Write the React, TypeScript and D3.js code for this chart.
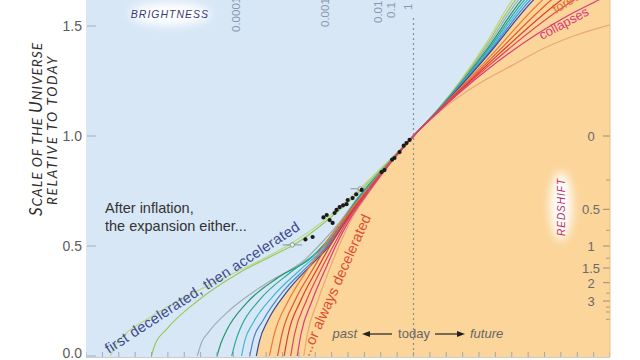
import React from 'react';
import * as d3 from 'd3';

type P = [number, number];

// time in billions of years from today, scale of the universe relative to today
const lightGreen: P[] = [[-18.5, 0], [-18.2, 0.05], [-17.6, 0.1], [-16.2, 0.17], [-14.5, 0.245], [-12, 0.34], [-9.5, 0.43], [-7.4, 0.515], [-5.4, 0.62], [-3.5, 0.745], [-1.7, 0.874], [0, 1], [1.5, 1.123], [3, 1.266], [4.5, 1.429], [6.04, 1.618], [6.5, 1.66]];
const yellowGreen: P[] = [[-16, 0], [-15.8, 0.05], [-15.1, 0.12], [-13.2, 0.25], [-10.6, 0.38], [-8.5, 0.46], [-7.1, 0.515], [-5.3, 0.615], [-3.4, 0.74], [-1.66, 0.872], [0, 1], [1.5, 1.121], [3, 1.26], [4.5, 1.417], [6.22, 1.618], [6.7, 1.66]];
const gray: P[] = [[-13.2, 0], [-12.95, 0.06], [-12.5, 0.11], [-11.2, 0.21], [-9, 0.33], [-6.6, 0.44], [-5.8, 0.5], [-4.6, 0.6], [-3.3, 0.73], [-1.62, 0.87], [0, 1], [1.5, 1.12], [3, 1.255], [4.5, 1.406], [6.4, 1.618], [6.9, 1.66]];
const darkGreen: P[] = [[-12, 0], [-11.75, 0.06], [-11.4, 0.118], [-10.2, 0.24], [-8.2, 0.36], [-6.2, 0.45], [-5.55, 0.5], [-4.5, 0.6], [-3.25, 0.73], [-1.6, 0.87], [0, 1], [1.5, 1.119], [3, 1.251], [4.5, 1.395], [6.59, 1.618], [7.1, 1.66]];
const teal: P[] = [[-11.1, 0], [-10.85, 0.07], [-10.55, 0.13], [-9.4, 0.255], [-7.6, 0.375], [-5.9, 0.47], [-5.45, 0.5], [-4.4, 0.6], [-3.2, 0.73], [-1.58, 0.87], [0, 1], [1.5, 1.118], [3, 1.247], [4.5, 1.386], [6.77, 1.618], [7.3, 1.66]];
const cyan: P[] = [[-10.5, 0], [-10.3, 0.07], [-9.8, 0.15], [-8.6, 0.27], [-6.95, 0.39], [-5.35, 0.5], [-4.35, 0.6], [-3.15, 0.73], [-1.56, 0.87], [0, 1], [1.5, 1.117], [3, 1.243], [4.5, 1.378], [6.95, 1.618], [7.5, 1.66]];
const blue: P[] = [[-10, 0], [-9.8, 0.07], [-9.2, 0.16], [-8, 0.29], [-6.5, 0.405], [-5.25, 0.5], [-4.3, 0.6], [-3.1, 0.73], [-1.55, 0.87], [0, 1], [1.5, 1.116], [3, 1.24], [4.5, 1.371], [7.13, 1.618], [7.7, 1.66]];
const navy: P[] = [[-9.6, 0], [-9.4, 0.07], [-8.9, 0.16], [-7.75, 0.29], [-6.3, 0.41], [-5.15, 0.5], [-4.25, 0.6], [-3.05, 0.73], [-1.54, 0.87], [0, 1], [1.5, 1.115], [3, 1.237], [4.5, 1.364], [7.32, 1.618], [7.9, 1.66]];
const orange: P[] = [[-8.8, 0], [-8.5, 0.1], [-7.65, 0.25], [-6.4, 0.4], [-5.5, 0.5], [-4.3, 0.62], [-2.9, 0.75], [-1.45, 0.88], [0, 1], [1.5, 1.114], [3, 1.229], [4.5, 1.347], [7.87, 1.618], [8.5, 1.66]];
const redOrange: P[] = [[-8.3, 0], [-8.03, 0.1], [-7.25, 0.25], [-6.1, 0.4], [-5.3, 0.5], [-4.2, 0.62], [-2.85, 0.75], [-1.43, 0.88], [0, 1], [1.5, 1.112], [3, 1.223], [4.5, 1.334], [8.41, 1.618], [9, 1.655]];
const red: P[] = [[-7.9, 0], [-7.65, 0.1], [-6.9, 0.25], [-5.85, 0.4], [-5.1, 0.5], [-4.1, 0.62], [-2.8, 0.75], [-1.41, 0.88], [0, 1], [1.5, 1.111], [3, 1.218], [4.5, 1.323], [9.02, 1.618], [9.6, 1.65]];
const crimson: P[] = [[-7.5, 0], [-7.26, 0.1], [-6.55, 0.25], [-5.6, 0.4], [-4.9, 0.5], [-4, 0.62], [-2.75, 0.75], [-1.4, 0.88], [0, 1], [1.5, 1.11], [3, 1.214], [4.5, 1.313], [9.8, 1.618], [10.4, 1.645]];
const pink: P[] = [[-7.1, 0], [-6.87, 0.1], [-6.2, 0.25], [-5.35, 0.4], [-4.75, 0.5], [-3.9, 0.62], [-2.7, 0.75], [-1.38, 0.88], [0, 1], [1.5, 1.108], [3, 1.209], [4.5, 1.301], [7.5, 1.461], [9.5, 1.55], [11.3, 1.618], [12, 1.645]];
const tan: P[] = [[-6.7, 0], [-6.48, 0.1], [-5.85, 0.25], [-5.1, 0.4], [-4.55, 0.5], [-3.8, 0.62], [-2.65, 0.75], [-1.36, 0.88], [0, 1], [1.5, 1.105], [3, 1.19], [4.5, 1.26], [6, 1.32], [8, 1.4], [10, 1.46], [12, 1.505]];

const models = [lightGreen, yellowGreen, gray, darkGreen, teal, cyan, blue, navy, tan, orange, redOrange, red, crimson, pink];
const modelColors = ['#bcd884', '#98c85a', '#a2adb0', '#24966c', '#2aa89c', '#3cb8d6', '#4a86cc', '#3c4690', '#e8a874', '#ec7a3a', '#e0582c', '#d83a30', '#e2445a', '#d83c7c'];

// supernova measurements
const supernovae: P[] = [[-0.24, 0.982], [-0.43, 0.968], [-0.6, 0.956], [-0.85, 0.927], [-1.16, 0.9], [-1.3, 0.893], [-1.77, 0.845], [-1.95, 0.836], [-3.17, 0.755], [-3.5, 0.735], [-3.72, 0.718], [-4.02, 0.709], [-4.09, 0.69], [-4.3, 0.685], [-4.51, 0.677], [-4.7, 0.664], [-4.82, 0.65], [-5.3, 0.641], [-5.12, 0.618], [-4.94, 0.605], [-5.5, 0.63], [-6.16, 0.541], [-6.6, 0.53]];
const openPoints: P[] = [[-7.4, 0.505], [-3.25, 0.76]];

const yTicks = [0, 0.5, 1.0, 1.5];
const timeTicks = d3.range(-20, 13, 1);
const redshiftMajor = [0, 0.5, 1, 1.5, 2, 3];
const redshiftMinor = [0.25, 0.75, 1.25, 2.5, 3.5, 4, 5];
const brightnessLabels = ['0.0001', '0.001', '0.01', '0.1', '1'];
const brightnessTimes = [-10.6, -5.16, -1.92, -1.13, -0.09];

const W = 640;
const H = 360;
const left = 86;
const right = 610;
const bottom = 357;

export default function App() {
  const x = d3.scaleLinear().domain([-20, 12]).range([left, right]);
  const y = d3.scaleLinear().domain([0, 1.5]).range([356, 26]);
  const line = d3.line<P>().x(d => x(d[0])).y(d => y(d[1])).curve(d3.curveMonotoneX);
  const area = d3.area<P>().x(d => x(d[0])).y0(bottom + 2).y1(d => y(d[1])).curve(d3.curveMonotoneX);
  const zy = (z: number) => y(1 / (1 + z));
  const font = 'Liberation Sans, Arial, sans-serif';
  const navyEnd = navy[navy.length - 1][0];
  const brightStart = [32, 27, 23, 18, 10];
  const titleProps = { textAnchor: 'middle' as const, fontFamily: 'Lato, sans-serif', fontStyle: 'italic', fill: '#2e2e2e' };

  return (
    <svg width={W} height={H} style={{ position: 'fixed', left: 0, top: 0, background: '#fff' }} fontFamily={font}>
      <defs>
        <clipPath id="plot"><rect x={left} y={-10} width={right - left} height={bottom + 10} /></clipPath>
        <filter id="glow" x="-50%" y="-50%" width="200%" height="200%"><feGaussianBlur stdDeviation="5" /></filter>
      </defs>
      <g clipPath="url(#plot)">
        <rect x={left} y={-10} width={right - left} height={bottom + 10} fill="#d8e7f6" />
        <path d={area(navy) || ''} fill="#fbd59a" />
        <rect x={x(navyEnd) - 1} y={-10} width={right - x(navyEnd) + 1} height={bottom + 10} fill="#fbd59a" />
        <line x1={x(0)} x2={x(0)} y1={18} y2={bottom} stroke="#8c8c8c" strokeWidth={1.2} strokeDasharray="2 3" />
        {models.map((m, i) => (
          <path key={i} d={line(m) || ''} fill="none" stroke={modelColors[i]} strokeWidth={1.2} />
        ))}
        {openPoints.map((p, i) => (
          <g key={i}>
            <line x1={x(p[0] - 0.6)} x2={x(p[0] + 0.6)} y1={y(p[1])} y2={y(p[1])} stroke="#8a9098" strokeWidth={1} />
            <circle cx={x(p[0])} cy={y(p[1])} r={2.2} fill="#eef2f6" stroke="#7a8088" strokeWidth={0.8} />
          </g>
        ))}
        {supernovae.map((p, i) => (
          <circle key={i} cx={x(p[0])} cy={y(p[1])} r={2.1} fill="#1a1a1a" />
        ))}
        {timeTicks.map(t => (
          <line key={t} x1={x(t)} x2={x(t)} y1={bottom - 5} y2={bottom} stroke="#8d9cae" strokeWidth={0.8} />
        ))}
        {yTicks.map(v => (
          <line key={v} x1={left + 1} x2={left + 10} y1={y(v)} y2={y(v)} stroke="#9fb0c2" strokeWidth={1} />
        ))}
        {redshiftMajor.map(z => (
          <line key={z} x1={right - 7} x2={right} y1={zy(z)} y2={zy(z)} stroke="#9a8a78" strokeWidth={1} />
        ))}
        {redshiftMinor.map(z => (
          <line key={z} x1={right - 4} x2={right} y1={zy(z)} y2={zy(z)} stroke="#9a8a78" strokeWidth={0.8} />
        ))}
      </g>
      <line x1={right} x2={right} y1={0} y2={bottom} stroke="#e6c08c" strokeWidth={1} />
      <line x1={left} x2={right} y1={bottom + 0.5} y2={bottom + 0.5} stroke="#c8ccd0" strokeWidth={1} />

      {yTicks.map(v => (
        <text key={v} x={82} y={Math.min(y(v) + 5, 358)} textAnchor="end" fontSize={14} fill="#5c5c5c">{v.toFixed(1)}</text>
      ))}
      {redshiftMajor.map(z => (
        <text key={z} x={591} y={zy(z) + 5} textAnchor="middle" fontSize={13} fill="#6a6a6a">{z}</text>
      ))}

      {brightnessLabels.map((s, i) => (
        <text key={s} transform={`translate(${x(brightnessTimes[i])},${brightStart[i]}) rotate(-90)`} fontSize={11.5} fill="#8896ac">{s}</text>
      ))}

      <ellipse cx={170} cy={14} rx={40} ry={11} fill="#fff" filter="url(#glow)" />
      <text x={170} y={18} textAnchor="middle" fontSize={10.5} fontStyle="italic" letterSpacing={1} fill="#3b3a78">BRIGHTNESS</text>

      <ellipse cx={561} cy={206} rx={11} ry={34} fill="#fff" filter="url(#glow)" />
      <text transform="translate(565,207) rotate(-90)" textAnchor="middle" fontSize={10} fontStyle="italic" letterSpacing={1} fill="#b4306c">REDSHIFT</text>

      <text transform="translate(42,129) rotate(-90)" {...titleProps} fontSize={13.6} letterSpacing={1}>
        <tspan fontSize={17}>S</tspan>CALE OF THE <tspan fontSize={17}>U</tspan>NIVERSE
      </text>
      <text transform="translate(57,130) rotate(-90)" {...titleProps} fontSize={13.6} letterSpacing={1.7}>RELATIVE TO TODAY</text>

      <text x={105} y={213} fontSize={14.5} fill="#333">After inflation,</text>
      <text x={105} y={231} fontSize={14.5} fill="#333">the expansion either...</text>
      <text transform="translate(109,354) rotate(-33)" fontSize={14.5} letterSpacing={0.3} fill="#3c4a8e">first decelerated, then accelerated</text>
      <text transform="translate(309,357) rotate(-66)" fontSize={14.5} fill="#e04a2e">...or always decelerated</text>
      <text transform="translate(556,14) rotate(-32)" fontSize={13} fill="#e07030">forever</text>
      <text transform="translate(542,40) rotate(-28)" fontSize={13} fill="#d83c7c">collapses</text>

      <text x={357} y={338} textAnchor="end" fontSize={13} fontStyle="italic" fill="#666">past</text>
      <line x1={392} x2={368} y1={334} y2={334} stroke="#222" strokeWidth={1.2} />
      <path d="M362,334 L370,331 L370,337 Z" fill="#222" />
      <text x={414} y={338} textAnchor="middle" fontSize={13} fill="#666">today</text>
      <line x1={435} x2={459} y1={334} y2={334} stroke="#222" strokeWidth={1.2} />
      <path d="M465,334 L457,331 L457,337 Z" fill="#222" />
      <text x={470} y={338} fontSize={13} fontStyle="italic" fill="#666">future</text>
    </svg>
  );
}
